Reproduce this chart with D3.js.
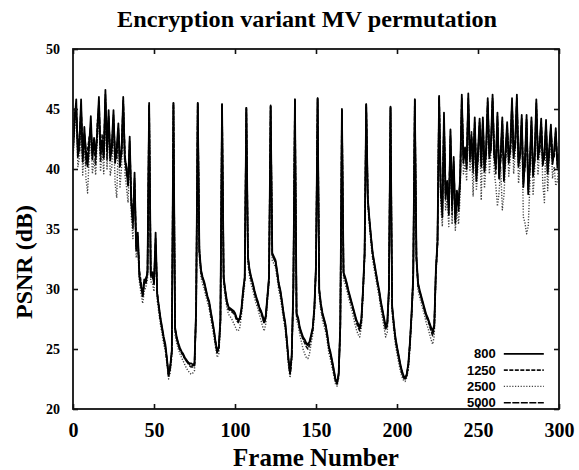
<!DOCTYPE html>
<html>
  <head>
    <meta charset="utf-8">
    <title>Encryption variant MV permutation</title>
    <script src="https://d3js.org/d3.v7.min.js" charset="utf-8"></script>
    <style>
      body{ margin: 0; background: #fff; }
      svg { display: block; }
      .ttl, .lbl { font-family: 'Liberation Serif', 'DejaVu Serif', serif; font-weight: bold; }
      .tick-x { font-family: 'Liberation Serif', serif; font-weight: bold; font-size: 20px; }
      .tick-y { font-family: 'Liberation Serif', serif; font-weight: bold; font-size: 14px; }
      .leg { font-family: 'Liberation Sans Narrow', 'Liberation Sans', sans-serif; font-weight: bold; font-size: 13px; }
    </style>
  </head>
  <body>

    <svg></svg>

    <script>

      //begin: data (PSNR in dB, one value per frame 0..300)
      var seriesNames = ["800", "1250", "2500", "5000"];
      var xTicks = [0, 50, 100, 150, 200, 250, 300];
      var yTicks = [20, 25, 30, 35, 40, 45, 50];

      var psnr800 = [
        41.5, 44.0, 45.8, 41.0, 42.3, 45.8, 40.6, 43.5, 41.2, 40.2, 42.0, 44.4, 40.8, 42.6, 41.0, 43.2, 46.0,
        41.3, 42.4, 40.9, 46.6, 41.5, 44.9, 40.7, 42.1, 44.9, 40.5, 41.8, 43.8, 40.2, 41.6, 46.0, 40.8, 40.0,
        38.6, 42.7, 37.0, 35.5, 39.7, 33.2, 34.7, 31.0, 30.2, 29.6, 30.8, 30.5, 31.6,
        45.5, 31.2, 31.4, 30.4, 34.7, 29.5, 28.6, 27.6, 26.8, 26.0, 25.4, 24.2, 22.8, 23.5, 24.9,
        45.5, 26.8, 26.0, 25.5, 25.1, 24.8, 24.6, 24.3, 24.1, 23.9, 23.8, 23.8, 23.7, 23.8, 28.3,
        45.5, 33.3, 31.6, 31.0, 30.6, 30.0, 29.4, 29.0, 28.2, 27.4, 26.6, 25.6, 24.8, 25.2, 27.5,
        45.4, 31.0, 29.9, 29.0, 28.5, 28.4, 28.3, 28.2, 28.0, 27.6, 27.4, 27.6, 28.4, 29.9, 31.0,
        45.1, 32.7, 31.6, 31.0, 30.5, 29.9, 29.4, 29.0, 28.5, 28.2, 27.8, 27.3, 27.8, 29.4, 31.0,
        45.3, 33.0, 32.7, 32.4, 31.5, 30.5, 29.9, 29.0, 28.0, 27.2, 25.8, 24.2, 23.0, 24.5, 30.0,
        45.8, 28.0, 27.6, 26.8, 26.4, 26.0, 25.8, 25.5, 25.4, 25.6, 26.2, 26.8, 28.5, 32.0, 45.9,
        30.0, 28.8, 28.0, 27.5, 27.0, 26.2, 25.2, 24.7, 24.0, 23.3, 22.5, 22.2, 23.0, 27.0, 45.0,
        31.4, 31.0, 30.5, 29.9, 29.4, 28.9, 28.4, 27.9, 27.4, 27.1, 26.8, 27.5, 29.9, 33.0, 45.4,
        37.5, 35.8, 34.3, 33.0, 32.2, 31.4, 30.6, 29.9, 29.0, 28.3, 27.6, 26.9, 27.2, 30.0, 45.2,
        28.6, 27.2, 26.0, 25.2, 24.5, 23.8, 23.2, 22.8, 22.6, 22.9, 23.8, 25.6, 28.0, 31.0, 45.8,
        32.7, 30.5, 29.9, 29.4, 28.9, 28.4, 27.9, 27.6, 27.2, 26.8, 26.5, 27.0, 31.6, 34.0, 46.1,
        38.5, 36.0, 44.7, 37.5, 39.0, 36.2, 43.3, 37.0, 41.0, 35.5, 38.2, 36.5, 39.5,
        46.2, 40.5, 41.8, 40.0, 46.3, 41.2, 42.5, 40.3, 44.3, 39.0, 41.5, 44.2, 40.2, 44.3, 39.8, 41.7,
        45.9, 40.9, 42.2, 46.2, 41.0, 40.3, 44.7, 39.2, 41.3, 44.3, 39.0, 41.6, 43.9, 40.5, 42.1,
        45.9, 40.9, 42.4, 46.2, 40.2, 41.5, 44.5, 38.5, 40.8, 44.5, 37.9, 40.6, 44.3, 39.4, 41.2,
        45.8, 40.8, 42.0, 44.2, 40.3, 41.4, 44.1, 39.6, 41.8, 43.7, 40.4, 41.5, 43.4, 40.1, 41.3
      ];

      var psnr1250 = [
        41.2, 45.0, 44.8, 41.8, 41.5, 45.2, 41.0, 42.8, 40.4, 41.6, 42.6, 43.0, 41.4, 41.9, 40.4, 43.8, 45.2,
        40.6, 42.9, 41.5, 45.8, 40.8, 44.2, 41.3, 41.4, 44.1, 41.2, 40.9, 43.2, 40.9, 41.1, 45.5, 41.4, 39.5,
        39.2, 41.8, 37.6, 35.0, 38.8, 33.8, 34.0, 31.5, 30.6, 29.3, 30.4, 30.9, 31.2,
        45.3, 31.0, 31.0, 30.7, 33.8, 29.8, 28.4, 27.4, 26.6, 25.8, 25.1, 24.0, 22.9, 23.4, 24.7,
        45.4, 26.6, 25.9, 25.3, 24.9, 24.7, 24.4, 24.2, 24.0, 23.8, 23.6, 23.5, 23.5, 23.6, 28.0,
        45.4, 33.0, 31.4, 30.8, 30.4, 29.8, 29.3, 28.8, 28.0, 27.2, 26.5, 25.5, 24.7, 25.0, 27.2,
        45.3, 30.8, 29.7, 28.8, 28.3, 28.2, 28.1, 28.0, 27.8, 27.4, 27.2, 27.4, 28.2, 29.6, 30.8,
        45.0, 32.5, 31.4, 30.8, 30.3, 29.7, 29.2, 28.8, 28.3, 28.0, 27.6, 27.1, 27.6, 29.2, 30.8,
        45.2, 32.8, 32.5, 32.2, 31.3, 30.3, 29.7, 28.8, 27.8, 27.0, 25.6, 24.0, 22.9, 24.3, 29.8,
        45.7, 27.8, 27.4, 26.6, 26.2, 25.8, 25.5, 25.2, 25.0, 25.3, 26.0, 26.6, 28.3, 31.8, 45.8,
        29.8, 28.6, 27.8, 27.3, 26.8, 26.0, 25.0, 24.5, 23.8, 23.1, 22.4, 22.1, 22.8, 26.8, 44.9,
        31.2, 30.8, 30.3, 29.7, 29.2, 28.7, 28.2, 27.7, 27.2, 26.8, 26.5, 27.2, 29.7, 32.8, 45.3,
        37.3, 35.6, 34.1, 32.8, 32.0, 31.2, 30.4, 29.7, 28.8, 28.1, 27.4, 26.6, 26.9, 29.8, 45.1,
        28.4, 27.0, 25.8, 25.0, 24.3, 23.6, 23.0, 22.6, 22.5, 22.8, 23.6, 25.4, 27.8, 30.8, 45.7,
        32.5, 30.3, 29.7, 29.2, 28.7, 28.2, 27.7, 27.4, 27.0, 26.5, 26.1, 26.7, 31.4, 33.8, 46.0,
        37.8, 37.0, 43.8, 38.4, 38.2, 37.0, 42.5, 36.2, 40.2, 36.3, 37.4, 37.6, 38.8,
        45.6, 41.2, 41.0, 40.8, 45.5, 40.6, 43.1, 39.7, 43.6, 39.8, 40.8, 43.6, 40.9, 43.6, 40.4, 41.0,
        45.2, 41.6, 41.5, 45.6, 41.7, 39.6, 44.0, 39.9, 40.6, 43.7, 39.8, 40.9, 43.2, 41.1, 41.4,
        45.2, 41.5, 41.8, 45.6, 40.8, 40.9, 43.8, 39.2, 40.1, 43.9, 38.7, 39.9, 43.6, 40.1, 40.6,
        45.1, 41.4, 41.4, 43.6, 40.9, 40.8, 43.5, 40.2, 41.2, 43.1, 41.0, 40.9, 42.8, 40.7, 40.8
      ];

      var psnr2500 = [
        40.8, 43.2, 44.5, 40.2, 41.0, 44.6, 39.5, 42.0, 39.2, 38.0, 41.0, 42.5, 39.6, 40.8, 39.5, 42.5, 44.8,
        39.8, 41.6, 39.6, 45.2, 40.0, 43.6, 39.5, 40.2, 43.5, 38.8, 37.6, 42.4, 38.5, 40.2, 44.8, 39.6, 38.5,
        37.2, 41.2, 36.0, 34.2, 38.0, 32.6, 33.4, 30.6, 29.6, 28.8, 29.8, 30.2, 30.8,
        45.1, 30.6, 30.5, 29.8, 33.5, 29.0, 28.0, 27.0, 26.2, 25.4, 24.8, 23.7, 22.5, 23.0, 24.3,
        45.2, 26.2, 25.5, 25.0, 24.6, 24.3, 24.0, 23.7, 23.4, 23.2, 23.0, 22.9, 23.0, 23.2, 27.6,
        45.2, 32.6, 31.0, 30.4, 30.0, 29.4, 28.9, 28.4, 27.6, 26.8, 26.0, 25.1, 24.3, 24.6, 26.8,
        45.1, 30.4, 29.3, 28.4, 27.9, 27.7, 27.5, 27.2, 26.9, 26.6, 26.5, 26.8, 27.8, 29.2, 30.4,
        44.8, 32.1, 31.0, 30.4, 29.9, 29.3, 28.8, 28.4, 27.9, 27.4, 26.9, 26.5, 27.1, 28.8, 30.4,
        45.0, 32.4, 32.1, 31.8, 30.9, 29.9, 29.3, 28.4, 27.4, 26.6, 25.2, 23.6, 22.6, 24.0, 29.4,
        45.5, 27.4, 27.0, 26.2, 25.6, 25.0, 24.6, 24.3, 24.2, 24.6, 25.5, 26.2, 27.9, 31.4, 45.6,
        29.4, 28.2, 27.4, 26.9, 26.4, 25.6, 24.6, 24.1, 23.4, 22.8, 22.1, 21.9, 22.5, 26.4, 44.7,
        30.8, 30.4, 29.9, 29.3, 28.8, 28.3, 27.7, 27.1, 26.6, 26.2, 26.0, 26.8, 29.3, 32.4, 45.1,
        36.9, 35.2, 33.7, 32.4, 31.6, 30.8, 30.0, 29.3, 28.4, 27.6, 26.8, 26.0, 26.4, 29.4, 44.9,
        28.0, 26.6, 25.4, 24.6, 23.9, 23.2, 22.7, 22.4, 22.3, 22.6, 23.3, 25.0, 27.4, 30.4, 45.5,
        32.1, 29.9, 29.3, 28.8, 28.3, 27.8, 27.2, 26.8, 26.3, 25.8, 25.4, 26.1, 31.0, 33.4, 45.8,
        37.0, 35.2, 43.0, 36.6, 37.5, 35.2, 43.2, 35.4, 39.6, 34.9, 36.6, 35.4, 37.8,
        45.4, 39.6, 40.5, 39.0, 45.6, 39.8, 41.8, 37.7, 43.4, 38.2, 40.2, 43.5, 37.4, 43.4, 38.4, 40.4,
        45.4, 39.6, 41.4, 45.6, 39.8, 38.6, 36.9, 38.0, 40.2, 36.6, 37.8, 40.4, 43.0, 39.4, 41.0,
        45.4, 39.6, 41.4, 45.6, 38.8, 40.2, 43.6, 36.0, 35.5, 34.6, 35.2, 38.6, 43.6, 37.8, 40.0,
        45.2, 39.5, 41.2, 43.4, 38.8, 37.2, 43.2, 38.2, 40.6, 42.8, 39.2, 40.2, 38.6, 39.0, 40.5
      ];

      var psnr5000 = [
        41.8, 44.6, 45.2, 41.4, 42.8, 45.0, 41.3, 43.0, 41.6, 40.8, 42.4, 43.6, 41.2, 42.2, 41.3, 42.8, 45.6,
        41.8, 42.0, 41.2, 46.2, 41.7, 44.4, 41.0, 41.8, 44.5, 41.0, 41.3, 43.4, 40.6, 41.8, 45.7, 41.0, 40.2,
        39.0, 42.3, 37.3, 35.8, 39.2, 33.5, 34.4, 31.2, 30.4, 29.4, 30.6, 30.7, 31.4,
        45.4, 31.1, 31.2, 30.6, 34.2, 29.6, 28.5, 27.5, 26.7, 25.9, 25.2, 24.1, 22.8, 23.5, 24.8,
        45.5, 26.7, 25.9, 25.4, 25.0, 24.7, 24.5, 24.2, 24.0, 23.9, 23.7, 23.6, 23.6, 23.7, 28.2,
        45.5, 33.2, 31.5, 30.9, 30.5, 29.9, 29.3, 28.9, 28.1, 27.3, 26.5, 25.5, 24.7, 25.1, 27.4,
        45.4, 30.9, 29.8, 28.9, 28.4, 28.3, 28.2, 28.1, 27.9, 27.5, 27.3, 27.5, 28.3, 29.8, 30.9,
        45.1, 32.6, 31.5, 30.9, 30.4, 29.8, 29.3, 28.9, 28.4, 28.1, 27.7, 27.2, 27.7, 29.3, 30.9,
        45.2, 32.9, 32.6, 32.3, 31.4, 30.4, 29.8, 28.9, 27.9, 27.1, 25.7, 24.1, 22.9, 24.4, 29.9,
        45.8, 27.9, 27.5, 26.7, 26.3, 25.9, 25.7, 25.4, 25.3, 25.5, 26.1, 26.7, 28.4, 31.9, 45.9,
        29.9, 28.7, 27.9, 27.4, 26.9, 26.1, 25.1, 24.6, 23.9, 23.2, 22.4, 22.1, 22.9, 26.9, 44.9,
        31.3, 30.9, 30.4, 29.8, 29.3, 28.8, 28.3, 27.8, 27.3, 27.0, 26.7, 27.4, 29.8, 32.9, 45.4,
        37.4, 35.7, 34.2, 32.9, 32.1, 31.3, 30.5, 29.8, 28.9, 28.2, 27.5, 26.8, 27.1, 29.9, 45.1,
        28.5, 27.1, 25.9, 25.1, 24.4, 23.7, 23.1, 22.7, 22.5, 22.8, 23.7, 25.5, 27.9, 30.9, 45.8,
        32.6, 30.4, 29.8, 29.3, 28.8, 28.3, 27.8, 27.5, 27.1, 26.7, 26.4, 26.9, 31.5, 33.9, 46.0,
        38.2, 36.6, 44.2, 37.9, 38.6, 36.8, 42.8, 36.8, 40.6, 35.8, 37.8, 37.0, 39.2,
        45.9, 40.8, 41.4, 40.4, 45.9, 40.9, 42.8, 40.0, 43.9, 39.4, 41.2, 43.9, 40.6, 44.0, 40.0, 41.4,
        45.6, 41.2, 41.8, 45.9, 41.3, 40.0, 44.4, 39.6, 41.0, 44.0, 39.4, 41.2, 43.6, 40.8, 41.8,
        45.6, 41.2, 42.1, 45.9, 40.5, 41.2, 44.2, 38.8, 40.5, 44.2, 38.3, 40.2, 44.0, 39.8, 40.9,
        45.5, 41.1, 41.7, 43.9, 40.6, 41.1, 43.8, 39.9, 41.5, 43.4, 40.7, 41.2, 43.1, 40.4, 41.0
      ];
      //end: data

      //begin: layout conf.
      var svgWidth = 579,
          svgHeight = 470,
          margin = {top: 49, right: 20, bottom: 61, left: 73},
          width = svgWidth - margin.left - margin.right,
          height = svgHeight - margin.top - margin.bottom,
          tickLen = 5;
      //end: layout conf.

      var styles = [
        {name: seriesNames[0], values: psnr800,  dash: null,      color: "#000", w: 1.8},
        {name: seriesNames[1], values: psnr1250, dash: "4,1.5",   color: "#111", w: 1.6},
        {name: seriesNames[2], values: psnr2500, dash: "1.2,1.6", color: "#444", w: 1.4},
        {name: seriesNames[3], values: psnr5000, dash: "7,1.5",   color: "#000", w: 1.6}
      ];

      var x = d3.scaleLinear().domain([0, 300]).range([0, width]);
      var y = d3.scaleLinear().domain([20, 50]).range([height, 0]);

      var svg = d3.select("svg")
        .attr("width", svgWidth)
        .attr("height", svgHeight);

      // title
      svg.append("text")
        .classed("ttl", true)
        .attr("x", 307).attr("y", 27)
        .attr("text-anchor", "middle")
        .style("font-size", "23px")
        .attr("textLength", 380)
        .attr("lengthAdjust", "spacingAndGlyphs")
        .text("Encryption variant MV permutation");

      var g = svg.append("g")
        .attr("transform", "translate(" + [margin.left, margin.top] + ")");

      g.append("defs").append("clipPath").attr("id", "clip")
        .append("rect").attr("width", width).attr("height", height);

      //begin: series
      var line = d3.line()
        .x(function(d, i){ return x(i); })
        .y(function(d){ return y(d); });

      var drawOrder = [2, 1, 3, 0];
      g.append("g").attr("clip-path", "url(#clip)")
        .selectAll("path")
        .data(drawOrder.map(function(i){ return styles[i]; }))
        .enter().append("path")
          .attr("d", function(s){ return line(s.values); })
          .attr("fill", "none")
          .attr("stroke", function(s){ return s.color; })
          .attr("stroke-width", function(s){ return s.w; })
          .attr("stroke-dasharray", function(s){ return s.dash; })
          .attr("stroke-linejoin", "round");
      //end: series

      //begin: frame & ticks
      g.append("rect")
        .attr("width", width).attr("height", height)
        .attr("fill", "none").attr("stroke", "#111").attr("stroke-width", 1.8);

      g.append("g")
        .attr("transform", "translate(0," + height + ")")
        .call(d3.axisBottom(x).tickValues(xTicks).tickSizeInner(-tickLen).tickSizeOuter(0).tickPadding(14))
        .call(function(a){
          a.select(".domain").remove();
          a.selectAll("line").attr("stroke", "#111").attr("stroke-width", 1.6);
          a.selectAll("text").attr("class", "tick-x").attr("fill", "#000").attr("font-size", null).attr("font-family", null);
        });
      g.append("g")
        .call(d3.axisTop(x).tickValues(xTicks).tickSizeInner(-tickLen).tickSizeOuter(0).tickFormat(""))
        .call(function(a){ a.select(".domain").remove(); a.selectAll("line").attr("stroke", "#111").attr("stroke-width", 1.6); });
      g.append("g")
        .call(d3.axisLeft(y).tickValues(yTicks).tickSizeInner(-tickLen).tickSizeOuter(0).tickPadding(13))
        .call(function(a){
          a.select(".domain").remove();
          a.selectAll("line").attr("stroke", "#111").attr("stroke-width", 1.6);
          a.selectAll("text").attr("class", "tick-y").attr("fill", "#000").attr("font-size", null).attr("font-family", null);
        });
      g.append("g")
        .attr("transform", "translate(" + width + ",0)")
        .call(d3.axisRight(y).tickValues(yTicks).tickSizeInner(-tickLen).tickSizeOuter(0).tickFormat(""))
        .call(function(a){ a.select(".domain").remove(); a.selectAll("line").attr("stroke", "#111").attr("stroke-width", 1.6); });
      //end: frame & ticks

      //begin: axis titles
      svg.append("text")
        .classed("lbl", true)
        .attr("x", 316).attr("y", 466)
        .attr("text-anchor", "middle")
        .style("font-size", "25px")
        .text("Frame Number");

      svg.append("text")
        .classed("lbl", true)
        .attr("transform", "translate(32,262) rotate(-90)")
        .attr("text-anchor", "middle")
        .style("font-size", "24px")
        .text("PSNR (dB)");
      //end: axis titles

      //begin: legend
      var legend = g.append("g")
        .attr("transform", "translate(" + (x(261) ) + "," + (y(24.6)) + ")");
      var items = legend.selectAll("g").data(styles).enter().append("g")
        .attr("transform", function(d, i){ return "translate(0," + (i * 16.3) + ")"; });
      items.append("text")
        .classed("leg", true)
        .attr("x", 0).attr("dy", "0.35em")
        .attr("text-anchor", "end")
        .text(function(d){ return d.name; });
      items.append("line")
        .attr("x1", 8).attr("x2", 48)
        .attr("stroke", function(d){ return d.color; })
        .attr("stroke-width", function(d){ return d.w; })
        .attr("stroke-dasharray", function(d){ return d.dash; });
      //end: legend

    </script>
  </body>
</html>
